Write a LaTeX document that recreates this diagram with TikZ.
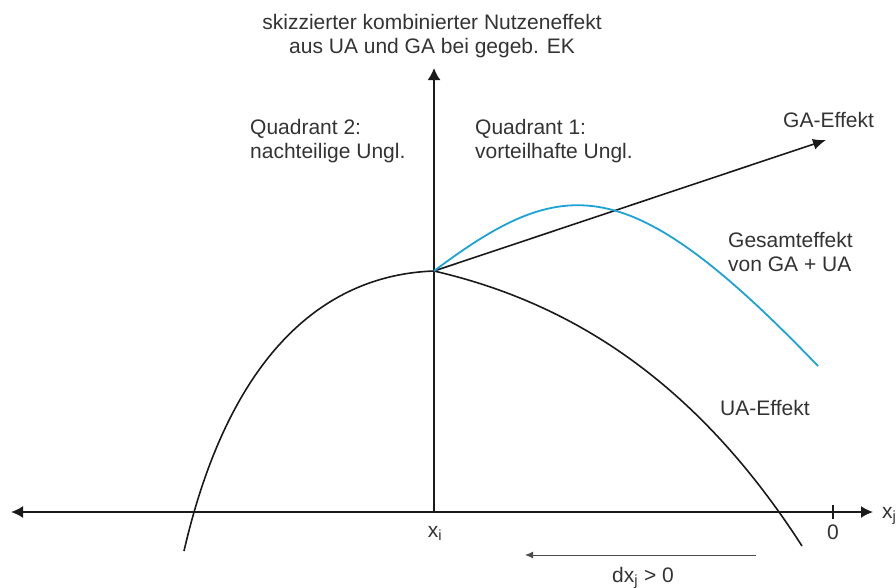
\documentclass[tikz,border=0pt]{standalone}
\usepackage{fontspec}
\setmainfont{Liberation Sans}
\usetikzlibrary{arrows.meta}
\definecolor{gesamtblue}{HTML}{1BA3D6}
\definecolor{labelgray}{HTML}{333333}
\definecolor{linegray}{HTML}{1A1A1A}

\begin{document}
\begin{tikzpicture}[x=1pt,y=-1pt]  % <-- pixel units, y downwards

\tikzset{
axisline/.style={
draw=linegray,
line width=1.8pt
},
effectline/.style={
draw=linegray,
line width=1.6pt
},
axislabel/.style={
text=labelgray,
inner sep=0pt,
font=\fontsize{21}{24}\selectfont
},
quadlabel/.style={
axislabel,
align=left,
anchor=west
}
}

\useasboundingbox (0,0) rectangle (896,587);

%----------------------------------
% AXES
%----------------------------------

\coordinate (leftend) at (11,512);
\coordinate (rightend) at (873,512);
\coordinate (xi) at (434,512);
\coordinate (topend) at (434,68);
\coordinate (junc) at (434,271);

\draw[axisline,{Latex[length=12pt,width=12pt]}-{Latex[length=12pt,width=12pt]}]
  (leftend) -- (rightend);
\draw[axisline,-{Latex[length=12pt,width=13pt]}] (xi) -- (topend);

\coordinate (zerotick) at (833,512);
\draw[axisline,line width=1.4pt] ([yshift=-7pt]zerotick) -- ([yshift=7pt]zerotick);

%----------------------------------
% EFFECT CURVES
%----------------------------------

\coordinate (ualeft) at (184,551);
\coordinate (uaright) at (802,546);
\coordinate (gatip) at (826,140);
\coordinate (bluend) at (818,366);

\draw[effectline] (ualeft) .. controls (228,360) and (320,275) .. (junc)
  .. controls (564,301) and (692,375) .. (uaright);
\draw[effectline,-{Latex[length=13pt,width=11pt]}] (junc) -- (gatip);
\draw[draw=gesamtblue,line width=1.8pt] (junc) .. controls (564,173.5) and (628,168.4) .. (bluend);

%----------------------------------
% dx ARROW
%----------------------------------

\coordinate (dxstart) at (756,555);
\coordinate (dxend) at (525,555);
\draw[draw=black!70,line width=1pt,-{Latex[length=8pt,width=7pt]}] (dxstart) -- (dxend);

%----------------------------------
% LABELS
%----------------------------------

\node[axislabel,align=center] (title) at (432,36)
{skizzierter kombinierter Nutzeneffekt\\aus UA und GA bei gegeb. EK};

\node[quadlabel] (quadtwo) at (250,141) {Quadrant 2:\\nachteilige Ungl.};
\node[quadlabel] (quadone) at (475,141) {Quadrant 1:\\vorteilhafte Ungl.};

\node[axislabel,anchor=base west] (galabel) at (783,127) {GA-Effekt};
\node[quadlabel] (gesamtlabel) at (728,252) {Gesamteffekt\\von GA + UA};
\node[axislabel,anchor=base west] (ualabel) at (720,415) {UA-Effekt};

\node[axislabel,anchor=base] (xilabel) at (435,537) {x\textsubscript{i}};
\node[axislabel,anchor=base] (zerolabel) at (833,539) {0};
\node[axislabel,anchor=base west] (xjlabel) at (882,518) {x\textsubscript{j}};
\node[axislabel,anchor=base] (dxlabel) at (643,582) {dx\textsubscript{j} > 0};

\end{tikzpicture}
\end{document}
